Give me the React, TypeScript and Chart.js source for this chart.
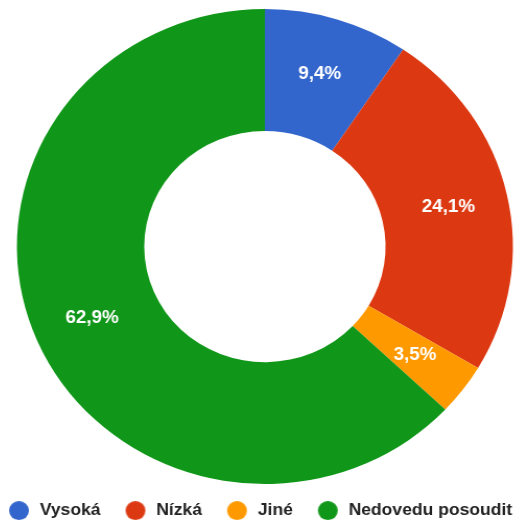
import React, { useEffect, useRef } from "react";
import { Chart, registerables } from "chart.js";

Chart.register(...registerables);

const categories = ["Vysoká", "Nízká", "Jiné", "Nedovedu posoudit"];
const values = [9.4, 24.1, 3.5, 62.9];
const colors = ["#3366CC", "#DC3912", "#FF9900", "#109618"];

const FONT = "Arial, 'Liberation Sans', sans-serif";
const SX = 1.0442;
const DOT = 19;
const DOT_LEAD = 14;
const DOT_BOX = 35;
const CANVAS_W = 538;
const CANVAS_H = 529;

const fmt = (v: number) => v.toFixed(1).replace(".", ",") + "%";

function makeDot(color: string) {
  const c = document.createElement("canvas");
  c.width = DOT_BOX;
  c.height = DOT;
  const ctx = c.getContext("2d")!;
  ctx.fillStyle = color;
  ctx.beginPath();
  ctx.arc(DOT_LEAD + DOT / 2, DOT / 2, DOT / 2, 0, Math.PI * 2);
  ctx.fill();
  return c;
}

const sliceLabels = {
  id: "sliceLabels",
  afterDatasetsDraw(chart: any) {
    const ctx = chart.ctx;
    const meta = chart.getDatasetMeta(0);
    ctx.save();
    ctx.font = `bold 18px ${FONT}`;
    ctx.fillStyle = "#ffffff";
    ctx.textAlign = "center";
    ctx.textBaseline = "middle";
    meta.data.forEach((arc: any, i: number) => {
      const { x, y, startAngle, endAngle, innerRadius, outerRadius } = arc.getProps(
        ["x", "y", "startAngle", "endAngle", "innerRadius", "outerRadius"],
        true
      );
      const a = (startAngle + endAngle) / 2;
      const r = innerRadius + (outerRadius - innerRadius) * 0.53;
      ctx.fillText(fmt(values[i]), x + Math.cos(a) * r, y + Math.sin(a) * r);
    });
    ctx.restore();
  },
};

export default function App() {
  const ref = useRef<HTMLCanvasElement>(null);
  useEffect(() => {
    const dots = colors.map(makeDot);
    const chart = new Chart(ref.current!, {
      type: "doughnut",
      data: {
        labels: categories,
        datasets: [
          {
            data: values,
            backgroundColor: colors,
            borderWidth: 0,
            radius: 237.5,
            cutout: 119.5,
          } as any,
        ],
      },
      options: {
        responsive: false,
        animation: false,
        layout: { padding: { top: 1, left: 0, right: 0, bottom: 0 } },
        plugins: {
          tooltip: { enabled: false },
          legend: {
            position: "bottom",
            align: "start",
            labels: {
              usePointStyle: true,
              pointStyleWidth: DOT_BOX,
              padding: 10,
              color: "#222222",
              font: { family: FONT, size: 16.8, weight: "bold" },
              generateLabels: (c: any) => {
                const items = (Chart as any).overrides.doughnut.plugins.legend.labels.generateLabels(c);
                items.forEach((it: any, i: number) => {
                  it.pointStyle = dots[i];
                });
                return items;
              },
            },
          },
        },
      } as any,
      plugins: [sliceLabels],
    });
    return () => chart.destroy();
  }, []);
  return (
    <div style={{ position: "fixed", left: 0, top: 0, width: 520, height: 526, overflow: "hidden", background: "#ffffff" }}>
      <div
        style={{
          position: "absolute",
          left: -16.1,
          top: 0,
          width: CANVAS_W,
          height: CANVAS_H,
          transform: `scaleX(${SX})`,
          transformOrigin: "0 0",
        }}
      >
        <canvas ref={ref} width={CANVAS_W} height={CANVAS_H} style={{ display: "block" }} />
      </div>
    </div>
  );
}
